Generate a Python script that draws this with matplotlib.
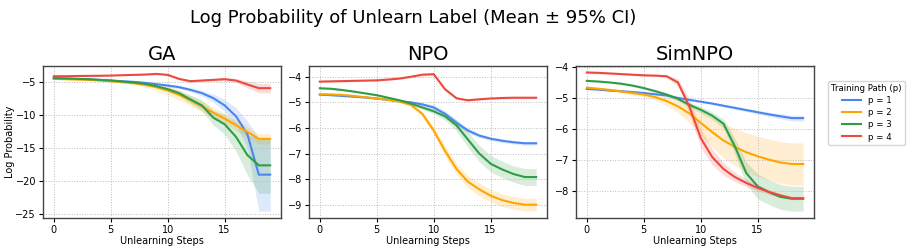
import numpy as np
import matplotlib
matplotlib.use("Agg")
import matplotlib.pyplot as plt

steps = np.arange(20)
methods = ["GA", "NPO", "SimNPO"]
paths = ["p = 1", "p = 2", "p = 3", "p = 4"]
colors = ["#4a86f0", "#ffa500", "#2e9e44", "#ec4a3f"]

# mean curves, one list per path (p=1..4)
ga_mean = [
    [-4.45, -4.5, -4.55, -4.6, -4.7, -4.8, -4.9, -5.0, -5.15, -5.35, -5.55, -5.8, -6.2, -6.7, -7.45, -8.55, -10.2, -12.9, -19.0, -19.0],
    [-4.55, -4.6, -4.65, -4.7, -4.8, -4.9, -5.05, -5.2, -5.45, -5.8, -6.3, -6.95, -7.8, -8.7, -9.65, -10.55, -11.55, -12.55, -13.6, -13.6],
    [-4.45, -4.5, -4.55, -4.6, -4.7, -4.8, -4.95, -5.1, -5.3, -5.65, -6.1, -6.7, -7.65, -8.55, -10.4, -11.4, -13.3, -16.05, -17.6, -17.6],
    [-4.15, -4.15, -4.12, -4.1, -4.08, -4.05, -4.0, -3.95, -3.9, -3.8, -3.95, -4.55, -4.9, -4.8, -4.7, -4.6, -4.8, -5.4, -5.95, -5.95],
]
ga_ci = [
    [0.05, 0.05, 0.05, 0.05, 0.05, 0.05, 0.05, 0.1, 0.1, 0.15, 0.2, 0.25, 0.3, 0.4, 0.6, 0.9, 1.3, 2.0, 5.5, 5.5],
    [0.05, 0.05, 0.05, 0.05, 0.05, 0.1, 0.15, 0.2, 0.35, 0.5, 0.7, 0.75, 0.8, 0.8, 0.8, 0.8, 0.8, 0.8, 0.8, 0.8],
    [0.05, 0.05, 0.05, 0.05, 0.05, 0.05, 0.1, 0.1, 0.15, 0.2, 0.3, 0.4, 0.6, 0.8, 1.1, 1.5, 2.2, 3.0, 4.2, 4.2],
    [0.05, 0.05, 0.05, 0.05, 0.05, 0.05, 0.05, 0.05, 0.1, 0.15, 0.15, 0.2, 0.2, 0.2, 0.2, 0.25, 0.3, 0.5, 0.7, 0.7],
]

npo_mean = [
    [-4.7, -4.72, -4.75, -4.78, -4.81, -4.85, -4.9, -4.95, -5.0, -5.08, -5.2, -5.45, -5.8, -6.1, -6.3, -6.42, -6.5, -6.56, -6.6, -6.6],
    [-4.68, -4.69, -4.71, -4.75, -4.8, -4.85, -4.9, -4.97, -5.1, -5.45, -6.1, -6.9, -7.6, -8.1, -8.4, -8.65, -8.82, -8.93, -9.0, -9.0],
    [-4.45, -4.47, -4.52, -4.58, -4.65, -4.72, -4.82, -4.92, -5.05, -5.2, -5.35, -5.55, -5.9, -6.45, -7.0, -7.4, -7.62, -7.8, -7.92, -7.92],
    [-4.19, -4.18, -4.17, -4.16, -4.15, -4.14, -4.11, -4.07, -4.0, -3.92, -3.9, -4.49, -4.84, -4.92, -4.88, -4.85, -4.83, -4.82, -4.82, -4.82],
]
npo_ci = [
    [0.03, 0.03, 0.03, 0.03, 0.03, 0.03, 0.03, 0.04, 0.05, 0.06, 0.1, 0.12, 0.12, 0.1, 0.08, 0.07, 0.07, 0.07, 0.07, 0.07],
    [0.03, 0.03, 0.03, 0.03, 0.03, 0.03, 0.04, 0.05, 0.06, 0.1, 0.15, 0.2, 0.22, 0.24, 0.25, 0.25, 0.25, 0.25, 0.25, 0.25],
    [0.03, 0.03, 0.03, 0.03, 0.03, 0.03, 0.04, 0.05, 0.06, 0.07, 0.1, 0.15, 0.22, 0.3, 0.32, 0.32, 0.32, 0.32, 0.33, 0.33],
    [0.03, 0.03, 0.03, 0.03, 0.03, 0.03, 0.03, 0.03, 0.04, 0.05, 0.05, 0.06, 0.05, 0.04, 0.04, 0.04, 0.04, 0.04, 0.04, 0.04],
]

simnpo_mean = [
    [-4.71, -4.73, -4.76, -4.78, -4.81, -4.84, -4.88, -4.92, -5.0, -5.06, -5.12, -5.18, -5.25, -5.32, -5.39, -5.46, -5.53, -5.59, -5.65, -5.65],
    [-4.67, -4.7, -4.74, -4.79, -4.84, -4.89, -4.97, -5.1, -5.27, -5.5, -5.8, -6.1, -6.37, -6.58, -6.75, -6.88, -6.99, -7.08, -7.13, -7.13],
    [-4.45, -4.47, -4.5, -4.54, -4.6, -4.68, -4.78, -4.89, -5.03, -5.22, -5.38, -5.57, -5.83, -6.56, -7.42, -7.85, -8.04, -8.19, -8.25, -8.25],
    [-4.18, -4.19, -4.21, -4.23, -4.25, -4.27, -4.28, -4.3, -4.5, -5.27, -6.29, -6.9, -7.29, -7.55, -7.74, -7.9, -8.03, -8.14, -8.23, -8.23],
]
simnpo_ci = [
    [0.02, 0.02, 0.02, 0.02, 0.02, 0.02, 0.02, 0.03, 0.03, 0.03, 0.03, 0.04, 0.04, 0.05, 0.05, 0.06, 0.07, 0.08, 0.09, 0.09],
    [0.03, 0.03, 0.04, 0.05, 0.06, 0.08, 0.1, 0.15, 0.2, 0.3, 0.4, 0.48, 0.55, 0.6, 0.63, 0.65, 0.66, 0.67, 0.68, 0.68],
    [0.02, 0.02, 0.02, 0.03, 0.03, 0.04, 0.05, 0.06, 0.07, 0.08, 0.1, 0.12, 0.15, 0.25, 0.35, 0.4, 0.4, 0.4, 0.4, 0.4],
    [0.03, 0.03, 0.03, 0.03, 0.03, 0.03, 0.03, 0.04, 0.12, 0.25, 0.3, 0.25, 0.2, 0.15, 0.12, 0.1, 0.08, 0.06, 0.05, 0.05],
]

all_mean = [ga_mean, npo_mean, simnpo_mean]
all_ci = [ga_ci, npo_ci, simnpo_ci]

fig = plt.figure(figsize=(9.14, 2.52), dpi=100)
lefts = [43, 309, 576]
width = 238
axes = []
for i, name in enumerate(methods):
    ax = fig.add_axes([lefts[i] / 914, (252 - 218) / 252, width / 914, 152 / 252])
    axes.append(ax)
    for j in range(4):
        m = np.array(all_mean[i][j])
        c = np.array(all_ci[i][j])
        ax.fill_between(steps, m - c, m + c, color=colors[j], alpha=0.18, linewidth=0)
        ax.plot(steps, m, color=colors[j], lw=1.5, label=paths[j])
    ax.set_title(name, fontsize=14, pad=4)
    ax.set_xlabel("Unlearning Steps", fontsize=7, labelpad=1)
    ax.tick_params(labelsize=7, length=3, pad=2)
    ax.set_xticks([0, 5, 10, 15])
    ax.grid(True, linestyle=":", color="#bbbbbb", linewidth=0.7)
    for s in ax.spines.values():
        s.set_color("#444444")
        s.set_linewidth(1.0)

axes[0].set_ylabel("Log Probability", fontsize=7, labelpad=0)
axes[2].set_ylim(-8.87, -3.97)

handles, labels = axes[0].get_legend_handles_labels()
fig.legend(handles, labels, title="Training Path (p)", fontsize=6.2, title_fontsize=6.2,
           loc="upper left", bbox_to_anchor=(828 / 914, 1 - 81 / 252),
           frameon=True, borderaxespad=0, handlelength=2.2, labelspacing=0.35)

fig.text(413 / 914, 1 - 18 / 252, "Log Probability of Unlearn Label (Mean \u00b1 95% CI)",
         ha="center", va="center", fontsize=13)

fig.savefig("out.png", dpi=100)
